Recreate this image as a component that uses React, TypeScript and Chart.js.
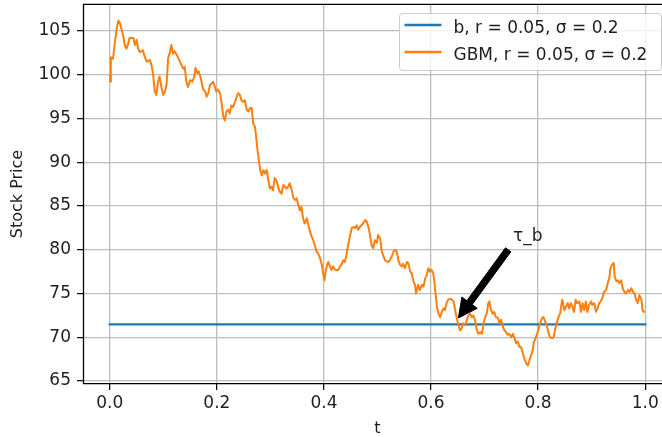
import React, { useEffect, useRef } from "react";
import { Chart, registerables } from "chart.js";

Chart.register(...registerables);

const FONT = "DejaVu Sans";
const TEXT_COLOR = "#1e1e1e";
const GRID_COLOR = "#bdbdbd";

const xTickValues = [0, 0.2, 0.4, 0.6, 0.8, 1.0];
const yTickValues = [65, 70, 75, 80, 85, 90, 95, 100, 105];
const xLimits = [-0.05, 1.05];
const yLimits = [64.66, 108.09];

const seriesLabels = ["b, r = 0.05, σ = 0.2", "GBM, r = 0.05, σ = 0.2"];
const seriesColors = ["#1f77b4", "#ff7f0e"];

const barrierT = [0, 1];
const barrierPrice = [71.48, 71.48];

const gbmT = [
  0.000, 0.001, 0.002, 0.006, 0.009, 0.013, 0.016, 0.019, 0.022, 0.025, 0.028, 0.031, 0.034, 0.037, 0.044, 0.047,
  0.050, 0.053, 0.056, 0.062, 0.065, 0.069, 0.075, 0.078, 0.081, 0.084, 0.087, 0.090, 0.093, 0.097, 0.100, 0.103,
  0.106, 0.109, 0.112, 0.115, 0.118, 0.121, 0.125, 0.128, 0.134, 0.137, 0.140, 0.143, 0.146, 0.150, 0.154, 0.158,
  0.160, 0.164, 0.166, 0.170, 0.174, 0.178, 0.181, 0.184, 0.187, 0.190, 0.193, 0.196, 0.199, 0.202, 0.206, 0.209,
  0.212, 0.215, 0.218, 0.221, 0.224, 0.227, 0.230, 0.234, 0.237, 0.240, 0.243, 0.246, 0.249, 0.252, 0.256, 0.259,
  0.262, 0.265, 0.268, 0.271, 0.273, 0.276, 0.279, 0.281, 0.284, 0.287, 0.290, 0.293, 0.296, 0.299, 0.302, 0.305,
  0.308, 0.312, 0.315, 0.318, 0.321, 0.324, 0.327, 0.330, 0.333, 0.336, 0.340, 0.343, 0.346, 0.349, 0.352, 0.355,
  0.358, 0.361, 0.364, 0.368, 0.371, 0.374, 0.377, 0.380, 0.383, 0.386, 0.389, 0.393, 0.396, 0.399, 0.401, 0.403,
  0.406, 0.408, 0.411, 0.414, 0.417, 0.421, 0.427, 0.430, 0.433, 0.436, 0.439, 0.442, 0.445, 0.449, 0.452, 0.455,
  0.458, 0.461, 0.464, 0.467, 0.470, 0.473, 0.477, 0.480, 0.483, 0.486, 0.489, 0.492, 0.495, 0.499, 0.501, 0.505,
  0.508, 0.511, 0.514, 0.520, 0.523, 0.527, 0.530, 0.533, 0.536, 0.539, 0.542, 0.545, 0.548, 0.551, 0.555, 0.558,
  0.561, 0.564, 0.567, 0.570, 0.572, 0.574, 0.576, 0.579, 0.583, 0.586, 0.589, 0.592, 0.595, 0.598, 0.601, 0.604,
  0.606, 0.609, 0.611, 0.614, 0.617, 0.620, 0.623, 0.626, 0.629, 0.632, 0.636, 0.639, 0.642, 0.645, 0.648, 0.651,
  0.654, 0.657, 0.660, 0.664, 0.667, 0.670, 0.673, 0.676, 0.679, 0.682, 0.685, 0.688, 0.692, 0.695, 0.698, 0.701,
  0.704, 0.707, 0.709, 0.712, 0.715, 0.718, 0.721, 0.725, 0.728, 0.731, 0.734, 0.737, 0.740, 0.743, 0.746, 0.750,
  0.753, 0.756, 0.759, 0.762, 0.765, 0.768, 0.771, 0.774, 0.778, 0.781, 0.784, 0.787, 0.790, 0.792, 0.794, 0.798,
  0.801, 0.804, 0.807, 0.810, 0.813, 0.816, 0.819, 0.822, 0.826, 0.829, 0.832, 0.835, 0.838, 0.841, 0.844, 0.845,
  0.849, 0.852, 0.855, 0.858, 0.861, 0.864, 0.867, 0.870, 0.873, 0.877, 0.880, 0.883, 0.886, 0.889, 0.892, 0.895,
  0.899, 0.901, 0.905, 0.908, 0.911, 0.914, 0.917, 0.920, 0.923, 0.927, 0.930, 0.933, 0.935, 0.938, 0.941, 0.943,
  0.946, 0.949, 0.952, 0.955, 0.958, 0.961, 0.964, 0.968, 0.971, 0.974, 0.977, 0.980, 0.983, 0.986, 0.989, 0.993,
  0.995, 0.997, 0.999,
];

const gbmPrice = [
  100.0, 99.2, 102.0, 101.8, 103.4, 105.3, 106.2, 105.9, 105.2, 104.5, 103.4, 103.0, 103.5, 104.2, 104.2, 103.4,
  104.0, 103.0, 102.6, 102.8, 102.1, 101.5, 101.7, 101.1, 100.0, 98.1, 97.7, 99.2, 99.8, 98.4, 97.7, 98.1,
  98.8, 101.9, 102.5, 103.4, 102.4, 102.7, 102.3, 101.9, 101.1, 100.7, 100.9, 99.2, 98.6, 99.4, 99.2, 99.8,
  100.8, 100.2, 100.4, 99.6, 98.4, 98.1, 97.5, 97.9, 98.8, 99.0, 99.2, 98.7, 98.1, 98.3, 97.9, 96.7,
  95.2, 94.8, 95.8, 96.0, 95.6, 96.5, 96.3, 96.9, 97.5, 97.9, 97.7, 97.1, 96.9, 97.1, 96.0, 95.8,
  96.2, 96.2, 94.4, 94.1, 93.1, 91.4, 89.9, 89.1, 88.5, 89.1, 88.7, 89.1, 88.0, 87.0, 87.2, 86.8,
  88.2, 87.8, 87.0, 86.6, 86.4, 87.4, 87.2, 87.0, 87.2, 87.6, 86.8, 85.9, 85.7, 85.9, 85.1, 84.5,
  84.9, 83.6, 83.0, 83.6, 82.8, 82.1, 81.5, 81.1, 80.5, 79.8, 79.6, 79.0, 78.3, 77.1, 76.5, 77.5,
  78.3, 78.6, 78.1, 77.7, 78.1, 77.7, 77.7, 78.1, 78.3, 78.8, 78.6, 79.4, 80.5, 81.7, 82.5, 82.6,
  82.5, 82.8, 82.3, 82.6, 82.8, 83.0, 83.4, 83.2, 82.6, 81.7, 80.5, 80.2, 81.1, 80.8, 81.7, 81.3,
  79.8, 79.3, 78.8, 78.6, 78.8, 79.3, 79.8, 80.0, 79.8, 78.8, 78.3, 78.1, 78.4, 77.9, 78.6, 78.4,
  77.5, 77.3, 76.4, 76.0, 75.0, 75.6, 76.0, 75.4, 76.0, 75.8, 76.7, 77.1, 77.9, 77.5, 77.7, 77.3,
  76.5, 74.6, 73.5, 72.7, 72.3, 72.9, 73.3, 73.1, 73.9, 74.3, 74.4, 74.3, 74.1, 73.1, 72.2, 71.4,
  70.8, 71.0, 71.6, 71.4, 72.0, 72.5, 72.7, 72.3, 72.5, 72.0, 71.0, 70.4, 70.6, 70.4, 71.6, 72.3,
  72.7, 73.9, 74.1, 73.1, 72.7, 72.9, 72.3, 72.2, 71.6, 72.0, 71.2, 70.8, 70.6, 70.3, 70.4, 70.0,
  70.4, 69.9, 69.3, 69.5, 68.9, 68.9, 68.3, 67.6, 67.0, 66.8, 67.4, 68.0, 68.5, 69.5, 69.7, 70.4,
  71.0, 71.6, 72.2, 72.3, 71.8, 71.4, 70.6, 70.0, 69.9, 70.0, 71.0, 71.7, 72.3, 72.7, 73.9, 74.3,
  73.1, 73.5, 73.9, 73.3, 73.9, 73.5, 72.9, 74.3, 73.9, 74.1, 72.9, 73.9, 73.1, 74.1, 72.9, 73.7,
  74.1, 73.7, 73.9, 72.9, 73.3, 73.9, 74.1, 74.5, 75.2, 75.4, 76.2, 76.8, 77.9, 78.3, 78.5, 76.9,
  76.4, 76.5, 76.2, 76.5, 75.6, 75.2, 75.0, 75.4, 75.2, 75.6, 75.2, 75.0, 74.3, 73.9, 74.8, 74.3,
  73.1, 72.9, 73.0,
];

const annotationText = "τ_b";
const arrowTip = [0.651, 72.2];
const arrowTail = [0.744, 80.0];
const annotationTextPos = [0.753, 81.0];

const tickFont = { family: FONT, size: 17, lineHeight: 1.2 };
const titleFont = { family: FONT, size: 16, lineHeight: 1 };

const overlayPlugin = {
  id: "overlay",
  afterDatasetsDraw(chart: any) {
    const { ctx, chartArea: a, scales } = chart;
    const xs = scales.x;
    const ys = scales.y;
    ctx.save();
    // spines
    ctx.strokeStyle = "#000";
    ctx.lineWidth = 1.3;
    ctx.beginPath();
    ctx.moveTo(a.right + 0.5, a.top + 0.3);
    ctx.lineTo(a.left + 0.5, a.top + 0.3);
    ctx.lineTo(a.left + 0.5, a.bottom - 0.3);
    ctx.lineTo(a.right + 0.5, a.bottom - 0.3);
    ctx.stroke();

    // arrow
    const tx = xs.getPixelForValue(arrowTip[0]);
    const ty = ys.getPixelForValue(arrowTip[1]);
    const sx = xs.getPixelForValue(arrowTail[0]);
    const sy = ys.getPixelForValue(arrowTail[1]);
    const dx = tx - sx;
    const dy = ty - sy;
    const len = Math.hypot(dx, dy);
    const ux = dx / len;
    const uy = dy / len;
    const nx = -uy;
    const ny = ux;
    const hw = 3.3;
    const hh = 9.5;
    const hl = 19;
    const bx = tx - ux * hl;
    const by = ty - uy * hl;
    ctx.beginPath();
    ctx.moveTo(sx + nx * hw, sy + ny * hw);
    ctx.lineTo(bx + nx * hw, by + ny * hw);
    ctx.lineTo(bx + nx * hh, by + ny * hh);
    ctx.lineTo(tx, ty);
    ctx.lineTo(bx - nx * hh, by - ny * hh);
    ctx.lineTo(bx - nx * hw, by - ny * hw);
    ctx.lineTo(sx - nx * hw, sy - ny * hw);
    ctx.closePath();
    ctx.fillStyle = "#000";
    ctx.fill();
    ctx.lineWidth = 1;
    ctx.strokeStyle = "#000";
    ctx.lineJoin = "miter";
    ctx.stroke();

    ctx.font = `17px "${FONT}"`;
    ctx.fillStyle = TEXT_COLOR;
    ctx.textAlign = "left";
    ctx.textBaseline = "alphabetic";
    ctx.fillText(
      annotationText,
      xs.getPixelForValue(annotationTextPos[0]),
      ys.getPixelForValue(annotationTextPos[1])
    );
    ctx.restore();
  },
  afterDraw(chart: any) {
    const { ctx, chartArea: a } = chart;
    ctx.save();
    const right = a.right - 10.5;
    const top = a.top + 9.5;
    const w = 262;
    const h = 57;
    const left = right - w;
    const r = 3;
    ctx.beginPath();
    ctx.moveTo(left + r, top);
    ctx.lineTo(left + w - r, top);
    ctx.quadraticCurveTo(left + w, top, left + w, top + r);
    ctx.lineTo(left + w, top + h - r);
    ctx.quadraticCurveTo(left + w, top + h, left + w - r, top + h);
    ctx.lineTo(left + r, top + h);
    ctx.quadraticCurveTo(left, top + h, left, top + h - r);
    ctx.lineTo(left, top + r);
    ctx.quadraticCurveTo(left, top, left + r, top);
    ctx.closePath();
    ctx.fillStyle = "rgba(255,255,255,0.8)";
    ctx.fill();
    ctx.strokeStyle = "#cccccc";
    ctx.lineWidth = 1;
    ctx.stroke();

    ctx.font = `17px "${FONT}"`;
    ctx.textAlign = "left";
    ctx.textBaseline = "alphabetic";
    for (let i = 0; i < seriesLabels.length; i++) {
      const ly = top + 11.5 + i * 27;
      ctx.strokeStyle = seriesColors[i];
      ctx.lineWidth = 2.3;
      ctx.lineCap = "butt";
      ctx.beginPath();
      ctx.moveTo(left + 5, ly);
      ctx.lineTo(left + 42, ly);
      ctx.stroke();
      ctx.fillStyle = TEXT_COLOR;
      ctx.fillText(seriesLabels[i], left + 54, ly + 8);
    }
    ctx.restore();
  },
};

export default function App() {
  const canvasRef = useRef<HTMLCanvasElement | null>(null);

  useEffect(() => {
    const canvas = canvasRef.current;
    if (!canvas) return;
    const chart = new Chart(canvas, {
      type: "line",
      data: {
        datasets: [
          {
            label: seriesLabels[1],
            data: gbmT.map((t, i) => ({ x: t, y: gbmPrice[i] })),
            borderColor: seriesColors[1],
            backgroundColor: seriesColors[1],
            borderWidth: 2,
            pointRadius: 0,
            tension: 0,
            borderJoinStyle: "round",
            order: 0,
          },
          {
            label: seriesLabels[0],
            data: barrierT.map((t, i) => ({ x: t, y: barrierPrice[i] })),
            borderColor: seriesColors[0],
            backgroundColor: seriesColors[0],
            borderWidth: 2.4,
            pointRadius: 0,
            tension: 0,
            borderCapStyle: "square",
            order: 1,
          },
        ],
      },
      options: {
        animation: false,
        responsive: false,
        events: [],
        layout: { padding: { left: 0, top: 4, right: 18, bottom: 0 } },
        plugins: {
          legend: { display: false },
          tooltip: { enabled: false },
        },
        scales: {
          x: {
            type: "linear",
            min: xLimits[0],
            max: xLimits[1],
            afterBuildTicks: (s: any) => {
              s.ticks = xTickValues.map((v) => ({ value: v }));
            },
            afterFit: (s: any) => {
              s.height = 53;
              s.paddingLeft = 0;
              s.paddingRight = 0;
            },
            ticks: {
              callback: (v: any) => Number(v).toFixed(1),
              font: tickFont,
              color: TEXT_COLOR,
              padding: 3.6,
              maxRotation: 0,
              autoSkip: false,
            },
            grid: {
              color: GRID_COLOR,
              lineWidth: 1.3,
              tickColor: "#000",
              tickLength: 6,
              tickWidth: 1.2,
            },
            border: { display: false },
            title: {
              display: true,
              text: "t",
              font: titleFont,
              color: TEXT_COLOR,
              padding: { top: 0, bottom: 0.6 },
            },
          },
          y: {
            type: "linear",
            min: yLimits[0],
            max: yLimits[1],
            afterBuildTicks: (s: any) => {
              s.ticks = yTickValues.map((v) => ({ value: v }));
            },
            afterFit: (s: any) => {
              s.width = 83;
              s.paddingTop = 0;
              s.paddingBottom = 0;
            },
            ticks: {
              callback: (v: any) => String(v),
              font: tickFont,
              color: TEXT_COLOR,
              padding: 6,
              autoSkip: false,
            },
            grid: {
              color: GRID_COLOR,
              lineWidth: 1.3,
              tickColor: "#000",
              tickLength: 6,
              tickWidth: 1.2,
            },
            border: { display: false },
            title: {
              display: true,
              text: "Stock Price",
              font: titleFont,
              color: TEXT_COLOR,
              padding: { top: 9.5, bottom: 0 },
            },
          },
        },
      },
      plugins: [overlayPlugin],
    } as any);
    return () => chart.destroy();
  }, []);

  return (
    <div
      style={{
        position: "absolute",
        left: 0,
        top: 0,
        width: 662,
        height: 437,
        overflow: "hidden",
        background: "#fff",
      }}
    >
      <canvas
        ref={canvasRef}
        width={690}
        height={437}
        style={{ display: "block", width: 690, height: 437 }}
      />
    </div>
  );
}
